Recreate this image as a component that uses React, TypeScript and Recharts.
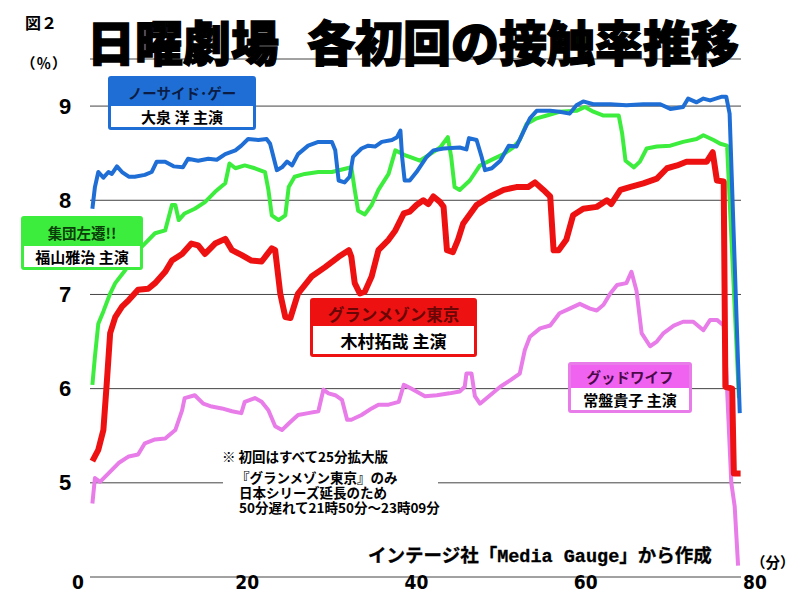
import React from 'react';
import { LineChart, Line, XAxis, YAxis, CartesianGrid } from 'recharts';

// ---- data (minutes from start, contact rate %) ----
const blueMinutes = [1.7, 2.0, 2.4, 3.0, 3.6, 4.0, 4.6, 5.2, 6.0, 6.7, 7.9, 8.7, 9.3, 10.3, 11.3, 12.4, 13.0, 14.2, 15.4, 16.4, 17.4, 18.6, 19.3, 20.1, 21.3, 22.3, 22.7, 23.5, 24.1, 24.7, 25.3, 26.0, 27.2, 28.4, 30.0, 30.4, 30.8, 31.5, 32.1, 32.5, 33.5, 34.3, 35.1, 35.9, 37.1, 37.7, 38.1, 38.3, 38.6, 39.2, 40.0, 41.2, 42.0, 43.2, 45.1, 45.9, 46.2, 47.1, 47.7, 48.1, 48.9, 49.9, 50.9, 51.8, 52.6, 53.4, 54.2, 55.8, 56.9, 58.1, 58.9, 59.7, 60.9, 62.9, 64.8, 66.8, 68.8, 70.0, 71.5, 72.1, 73.1, 73.9, 74.7, 76.1, 76.6, 77.0, 78.2];
const blueValues = [7.91, 8.14, 8.30, 8.24, 8.30, 8.28, 8.36, 8.30, 8.25, 8.25, 8.27, 8.30, 8.41, 8.41, 8.36, 8.35, 8.44, 8.42, 8.44, 8.43, 8.49, 8.53, 8.58, 8.65, 8.64, 8.65, 8.60, 8.32, 8.35, 8.41, 8.37, 8.49, 8.58, 8.62, 8.62, 8.53, 8.21, 8.19, 8.25, 8.46, 8.55, 8.58, 8.57, 8.62, 8.64, 8.67, 8.74, 8.46, 8.21, 8.21, 8.30, 8.46, 8.53, 8.55, 8.56, 8.54, 8.66, 8.64, 8.46, 8.32, 8.34, 8.42, 8.58, 8.57, 8.72, 8.87, 8.95, 8.95, 8.94, 8.92, 9.01, 9.05, 9.02, 9.02, 9.01, 9.02, 9.02, 8.97, 8.99, 9.08, 9.04, 9.08, 9.06, 9.10, 9.10, 8.92, 5.74];

const greenMinutes = [1.7, 2.0, 2.4, 3.0, 3.8, 4.4, 5.6, 6.7, 7.9, 9.1, 10.3, 11.1, 11.5, 11.9, 12.6, 13.8, 15.0, 16.2, 17.4, 17.9, 18.6, 19.7, 20.9, 22.1, 22.5, 22.9, 23.7, 24.5, 24.9, 25.6, 26.8, 28.4, 30.0, 32.3, 32.7, 33.1, 33.9, 34.7, 35.5, 36.7, 37.5, 38.6, 39.2, 40.4, 41.6, 42.8, 43.7, 44.1, 44.5, 45.1, 46.3, 47.5, 49.1, 50.3, 51.4, 52.2, 53.0, 54.2, 55.4, 56.9, 58.9, 59.9, 60.9, 62.1, 63.9, 64.3, 64.7, 65.7, 66.4, 67.2, 68.4, 70.0, 71.5, 73.1, 73.9, 75.1, 75.9, 76.7, 78.1];
const greenValues = [6.04, 6.34, 6.69, 6.82, 7.01, 7.12, 7.26, 7.43, 7.54, 7.65, 7.68, 7.95, 7.95, 7.79, 7.86, 7.91, 7.98, 8.09, 8.18, 8.39, 8.34, 8.37, 8.34, 8.30, 8.11, 7.84, 7.79, 7.84, 8.14, 8.25, 8.28, 8.30, 8.30, 8.35, 8.11, 7.89, 7.85, 7.95, 8.11, 8.28, 8.53, 8.48, 8.46, 8.42, 8.49, 8.56, 8.67, 8.46, 8.14, 8.11, 8.21, 8.37, 8.44, 8.49, 8.56, 8.64, 8.81, 8.87, 8.90, 8.94, 8.95, 8.99, 8.94, 8.90, 8.90, 8.71, 8.42, 8.35, 8.41, 8.55, 8.57, 8.58, 8.62, 8.65, 8.69, 8.64, 8.60, 8.58, 5.9];

const redMinutes = [1.7, 2.4, 3.0, 3.4, 3.8, 4.4, 5.2, 6.0, 7.1, 8.3, 9.1, 10.3, 11.1, 12.3, 13.4, 14.2, 15.0, 16.2, 17.4, 18.2, 19.3, 20.5, 21.7, 22.3, 22.9, 23.3, 23.9, 24.5, 25.1, 26.0, 27.6, 29.2, 30.8, 32.0, 32.3, 32.7, 33.3, 33.9, 34.7, 35.5, 36.7, 37.5, 38.5, 39.2, 40.0, 40.8, 41.4, 42.0, 42.8, 43.2, 43.6, 44.3, 44.9, 45.5, 47.1, 48.7, 50.3, 51.8, 53.2, 54.0, 55.0, 55.8, 56.2, 56.8, 57.7, 58.5, 59.7, 61.3, 62.5, 63.0, 64.1, 65.2, 66.8, 68.4, 69.6, 70.8, 71.9, 74.3, 75.0, 75.5, 76.3, 76.5, 77.3, 77.5, 78.3];
const redValues = [5.23, 5.35, 5.56, 6.06, 6.59, 6.76, 6.87, 6.94, 7.05, 7.06, 7.12, 7.24, 7.36, 7.43, 7.54, 7.52, 7.43, 7.54, 7.59, 7.47, 7.42, 7.36, 7.35, 7.42, 7.49, 7.47, 7.01, 6.76, 6.75, 7.01, 7.19, 7.29, 7.40, 7.47, 7.40, 7.12, 7.01, 7.03, 7.19, 7.47, 7.58, 7.68, 7.86, 7.88, 7.95, 8.00, 7.96, 8.04, 7.98, 7.93, 7.47, 7.45, 7.58, 7.75, 7.95, 8.04, 8.11, 8.14, 8.14, 8.19, 8.11, 8.04, 7.47, 7.47, 7.58, 7.84, 7.91, 7.93, 8.00, 7.96, 8.11, 8.14, 8.18, 8.23, 8.34, 8.37, 8.41, 8.41, 8.51, 8.21, 8.20, 6.02, 6.00, 5.10, 5.10];

const pinkMinutes = [1.7, 2.0, 2.6, 3.6, 4.8, 6.0, 7.1, 7.9, 9.1, 10.3, 11.5, 12.3, 12.6, 13.8, 14.8, 15.8, 17.0, 18.2, 19.3, 19.7, 20.9, 21.7, 22.5, 23.3, 24.1, 24.9, 26.0, 27.2, 28.4, 29.0, 29.6, 30.4, 31.2, 31.8, 32.3, 33.5, 34.7, 35.5, 36.7, 37.9, 38.5, 39.2, 40.0, 41.0, 42.4, 43.9, 45.1, 45.7, 45.9, 46.5, 46.9, 47.5, 48.7, 49.9, 51.1, 52.2, 52.8, 53.4, 54.6, 55.8, 56.9, 58.1, 59.3, 60.5, 61.3, 62.1, 62.9, 63.7, 64.8, 65.4, 66.0, 66.6, 67.6, 68.4, 69.2, 70.4, 71.5, 72.7, 73.9, 74.7, 75.5, 76.3, 76.6, 77.2, 77.6, 78.0];
const pinkValues = [4.78, 5.05, 5.01, 5.10, 5.21, 5.28, 5.30, 5.42, 5.46, 5.47, 5.56, 5.77, 5.90, 5.93, 5.84, 5.81, 5.79, 5.76, 5.74, 5.86, 5.90, 5.86, 5.77, 5.60, 5.56, 5.63, 5.72, 5.74, 5.76, 5.99, 5.95, 5.93, 5.88, 5.67, 5.67, 5.72, 5.79, 5.83, 5.83, 5.86, 6.04, 6.01, 5.97, 5.92, 5.93, 5.95, 5.97, 6.02, 6.16, 6.16, 5.92, 5.84, 5.93, 6.02, 6.09, 6.16, 6.41, 6.55, 6.64, 6.67, 6.80, 6.85, 6.90, 6.85, 6.83, 6.89, 7.01, 7.10, 7.12, 7.24, 7.04, 6.59, 6.45, 6.50, 6.59, 6.67, 6.71, 6.71, 6.62, 6.73, 6.73, 6.67, 6.20, 5.00, 4.75, 4.12];

const xTicks = [0, 20, 40, 60, 80];
const yTicks = [5, 6, 7, 8, 9];

const noteHead = '※ 初回はすべて25分拡大版';
const noteBody = '『グランメゾン東京』のみ\n 日本シリーズ延長のため\n 50分遅れて21時50分～23時09分';

const toRows = (m: number[], v: number[]) => m.map((x, i) => ({ m: x, v: v[i] }));
const blueData = toRows(blueMinutes, blueValues);
const greenData = toRows(greenMinutes, greenValues);
const redData = toRows(redMinutes, redValues);
const pinkData = toRows(pinkMinutes, pinkValues);

const JP = "'Noto Sans CJK JP', 'Noto Sans CJK SC', sans-serif";

const BLUE = '#1e6ed6';
const GREEN = '#3ded3d';
const RED = '#ee1111';
const PINK = '#e87ce8';

function T({ x, cy, fs, children, weight = 700, color = '#000', ls = 0, family = JP, stroke }: any) {
  return (
    <div
      style={{
        position: 'absolute',
        left: x,
        top: cy - 0.556 * fs,
        fontSize: fs,
        lineHeight: `${fs}px`,
        fontFamily: family,
        fontWeight: weight,
        color,
        whiteSpace: 'nowrap',
        letterSpacing: ls,
        WebkitTextStroke: stroke,
      }}
    >
      {children}
    </div>
  );
}

function LabelBox({ left, top, width, height, headerH, color, headerFill, headerText, headerColor, bodyText, fs }: any) {
  return (
    <div
      style={{
        position: 'absolute',
        left,
        top,
        width,
        height,
        boxSizing: 'border-box',
        border: `3px solid ${color}`,
        borderRadius: 3,
        background: '#fff',
        display: 'flex',
        flexDirection: 'column',
        fontFamily: JP,
        fontWeight: 700,
      }}
    >
      <div
        style={{
          height: headerH,
          background: headerFill,
          display: 'flex',
          alignItems: 'center',
          justifyContent: 'center',
          color: headerColor,
          fontSize: fs,
          whiteSpace: 'nowrap',
        }}
      >
        {headerText}
      </div>
      <div
        style={{
          flex: 1,
          display: 'flex',
          alignItems: 'center',
          justifyContent: 'center',
          color: '#000',
          fontSize: fs + 0.5,
          whiteSpace: 'nowrap',
        }}
      >
        {bodyText}
      </div>
    </div>
  );
}

const YTick = (p: any) => (
  <text
    x={p.x}
    y={p.y}
    textAnchor="middle"
    dominantBaseline="central"
    fontFamily="'Liberation Sans', Arial, sans-serif"
    fontWeight={700}
    fontSize={22}
    fill="#000"
  >
    {p.payload.value}
  </text>
);

const XTick = (p: any) => (
  <text
    x={p.x}
    y={p.y}
    textAnchor="middle"
    dominantBaseline="central"
    fontFamily="'Liberation Sans Narrow', 'DejaVu Sans Condensed', sans-serif"
    fontWeight={700}
    fontSize={19}
    fill="#000"
  >
    {p.payload.value}
  </text>
);

const gridLine = (p: any) => (
  <line
    key={`g-${p.index}`}
    x1={p.x1 + 12}
    x2={p.x2 - 14}
    y1={p.y1}
    y2={p.y2}
    stroke="#444"
    strokeWidth={1}
  />
);

export default function App() {
  return (
    <div style={{ position: 'absolute', left: 0, top: 0, width: 800, height: 600, background: '#fff', overflow: 'hidden' }}>
      <LineChart width={800} height={600} margin={{ top: 59, right: 45, bottom: 0, left: 0 }}>
        <CartesianGrid vertical={false} horizontal={gridLine} />
        <XAxis
          type="number"
          dataKey="m"
          domain={[0, 80]}
          ticks={xTicks}
          interval={0}
          axisLine={false}
          tickLine={false}
          tickSize={0}
          tickMargin={5}
          height={23}
          tick={<XTick />}
          allowDataOverflow
        />
        <YAxis
          type="number"
          domain={[4, 9.5]}
          ticks={yTicks}
          interval={0}
          axisLine={false}
          tickLine={false}
          tickSize={0}
          tickMargin={13}
          width={78}
          tick={<YTick />}
          allowDataOverflow
        />
        <Line data={pinkData} dataKey="v" stroke={PINK} strokeWidth={4} dot={false} isAnimationActive={false} strokeLinejoin="round" />
        <Line data={greenData} dataKey="v" stroke={GREEN} strokeWidth={4} dot={false} isAnimationActive={false} strokeLinejoin="round" />
        <Line data={blueData} dataKey="v" stroke={BLUE} strokeWidth={4} dot={false} isAnimationActive={false} strokeLinejoin="round" />
        <Line data={redData} dataKey="v" stroke={RED} strokeWidth={6} dot={false} isAnimationActive={false} strokeLinejoin="round" />
      </LineChart>

      {/* titles */}
      <T x={25} cy={23} fs={16}>図２</T>
      <T x={21} cy={64} fs={14.5} ls={1}>（％）</T>
      <T x={87} cy={43} fs={48} weight={900} stroke="1.4px #000">日曜劇場</T>
      <T x={307} cy={43} fs={48} weight={900} stroke="1.4px #000">各初回の接触率推移</T>

      {/* series labels */}
      <LabelBox left={108} top={76} width={148} height={54} headerH={27} color={BLUE} headerFill={BLUE} headerText="ノーサイド･ゲー" headerColor="#0b1d44" bodyText="大泉 洋 主演" fs={14.5} />
      <LabelBox left={21} top={216} width={122} height={54} headerH={27} color={GREEN} headerFill={GREEN} headerText="集団左遷!!" headerColor="#0b3d0b" bodyText="福山雅治 主演" fs={14.5} />
      <LabelBox left={310} top={298} width={167} height={59} headerH={25} color={RED} headerFill={RED} headerText="グランメゾン東京" headerColor="#6a0606" bodyText="木村拓哉 主演" fs={16.5} />
      <LabelBox left={568} top={362} width={124} height={51} headerH={23} color={PINK} headerFill="#f062f0" headerText="グッドワイフ" headerColor="#4a0a4a" bodyText="常盤貴子 主演" fs={14.5} />

      {/* note */}
      <div style={{ position: 'absolute', left: 223, top: 446, width: 215, height: 70, background: '#fff' }} />
      <T x={222} cy={457.5} fs={13.5}>{noteHead}</T>
      <div
        style={{
          position: 'absolute',
          left: 236,
          top: 469.5,
          fontSize: 13.5,
          lineHeight: '15px',
          fontFamily: JP,
          fontWeight: 700,
          whiteSpace: 'pre',
          color: '#000',
        }}
      >
        {noteBody}
      </div>

      {/* source */}
      <T x={368} cy={555} fs={18.5} stroke="0.3px #000">
        インテージ社「<span style={{ fontFamily: "'Liberation Mono', 'DejaVu Sans Mono', monospace" }}>Media Gauge</span>」から作成
      </T>
      <T x={751} cy={563} fs={14.5}>（分）</T>
    </div>
  );
}
